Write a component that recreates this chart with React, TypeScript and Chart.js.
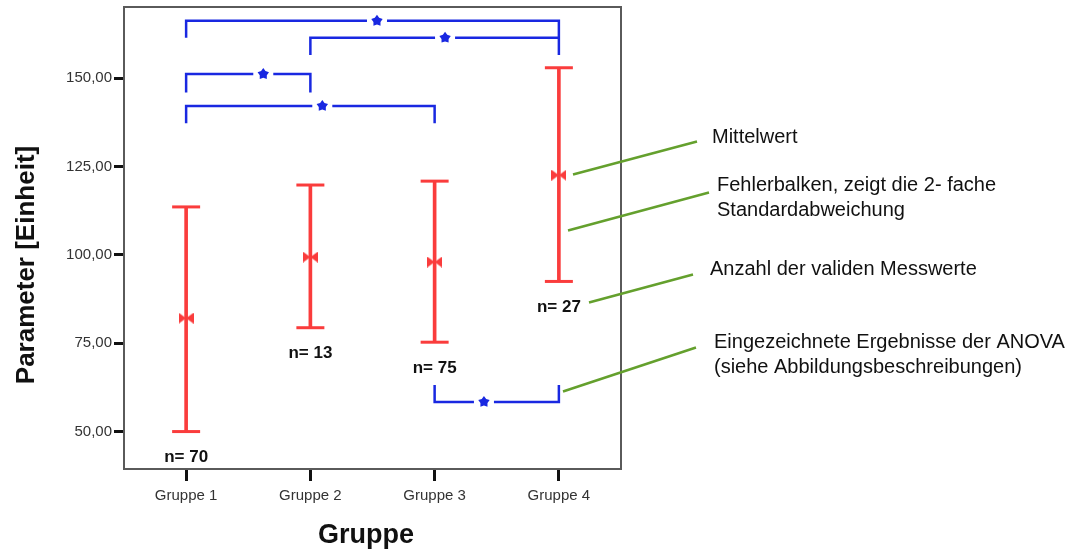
import React, { useEffect, useRef } from 'react';
import { Chart, registerables } from 'chart.js';

Chart.register(...registerables);

// ---- data ----
const categories = ['Gruppe 1', 'Gruppe 2', 'Gruppe 3', 'Gruppe 4'];
const meanValues = [82.1, 99.4, 98.0, 122.6];
const upperValues = [113.6, 119.8, 120.9, 153.0];
const lowerValues = [50.0, 79.4, 75.3, 92.5];
const nCounts = [70, 13, 75, 27];
const yTickValues = [50, 75, 100, 125, 150];
const yMin = 39.4;
const yMax = 170.2;

// significance brackets (ANOVA results)
const bracketFrom = [0, 1, 0, 0, 2];
const bracketTo = [3, 3, 1, 2, 3];
const bracketLevel = [166.3, 161.5, 151.2, 142.2, 58.4];
const bracketFromEnd = [161.5, 156.6, 146.0, 137.3, 63.2];
const bracketToEnd = [156.6, 161.5, 146.0, 137.3, 63.2];
const bracketStarFrac = [0.512, 0.542, 0.621, 0.548, 0.397];

// explanatory callouts
const calloutTexts = [
  ['Mittelwert'],
  ['Fehlerbalken, zeigt die 2- fache', 'Standardabweichung'],
  ['Anzahl der validen Messwerte'],
  ['Eingezeichnete Ergebnisse der ANOVA', '(siehe Abbildungsbeschreibungen)'],
];

const RED = 'rgb(250,60,60)';
const BLUE = 'rgb(25,40,225)';
const GREEN = 'rgb(100,160,45)';
const FONT = '"Liberation Sans", Arial, Helvetica, sans-serif';

function makeBowtie(): HTMLCanvasElement {
  const c = document.createElement('canvas');
  c.width = 15;
  c.height = 11;
  const g = c.getContext('2d')!;
  g.fillStyle = RED;
  g.beginPath();
  g.moveTo(0, 0);
  g.lineTo(7.5, 5.5);
  g.lineTo(0, 11);
  g.closePath();
  g.fill();
  g.beginPath();
  g.moveTo(15, 0);
  g.lineTo(7.5, 5.5);
  g.lineTo(15, 11);
  g.closePath();
  g.fill();
  return c;
}

function drawStar(ctx: CanvasRenderingContext2D, cx: number, cy: number, r: number) {
  ctx.beginPath();
  for (let k = 0; k < 10; k++) {
    const a = -Math.PI / 2 + (k * Math.PI) / 5;
    const rad = k % 2 === 0 ? r : r * 0.62;
    const px = cx + Math.cos(a) * rad;
    const py = cy + Math.sin(a) * rad;
    if (k === 0) ctx.moveTo(px, py);
    else ctx.lineTo(px, py);
  }
  ctx.closePath();
  ctx.fill();
}

const decorPlugin = {
  id: 'decor',
  afterDatasetsDraw(chart: any) {
    const ctx: CanvasRenderingContext2D = chart.ctx;
    const xs = chart.scales.x;
    const ys = chart.scales.y;
    const area = chart.chartArea;
    ctx.save();

    // frame
    ctx.strokeStyle = '#5a5a5a';
    ctx.lineWidth = 2;
    ctx.strokeRect(area.left, area.top, area.right - area.left, area.bottom - area.top);

    // error bar caps
    ctx.strokeStyle = RED;
    ctx.lineWidth = 3;
    categories.forEach((_, i) => {
      const x = xs.getPixelForValue(i);
      [upperValues[i], lowerValues[i]].forEach((v) => {
        const y = ys.getPixelForValue(v);
        ctx.beginPath();
        ctx.moveTo(x - 14, y);
        ctx.lineTo(x + 14, y);
        ctx.stroke();
      });
    });

    // n labels
    ctx.fillStyle = '#111';
    ctx.font = `bold 17px ${FONT}`;
    ctx.textAlign = 'center';
    ctx.textBaseline = 'middle';
    categories.forEach((_, i) => {
      const x = xs.getPixelForValue(i);
      const y = ys.getPixelForValue(lowerValues[i]) + 26;
      ctx.fillText(`n= ${nCounts[i]}`, x, y);
    });

    // significance brackets
    ctx.strokeStyle = BLUE;
    ctx.fillStyle = BLUE;
    ctx.lineWidth = 2.5;
    bracketFrom.forEach((f, b) => {
      const x1 = xs.getPixelForValue(f);
      const x2 = xs.getPixelForValue(bracketTo[b]);
      const y = ys.getPixelForValue(bracketLevel[b]);
      const y1 = ys.getPixelForValue(bracketFromEnd[b]);
      const y2 = ys.getPixelForValue(bracketToEnd[b]);
      const sx = x1 + (x2 - x1) * bracketStarFrac[b];
      const gap = 10;
      ctx.beginPath();
      ctx.moveTo(x1, y1);
      ctx.lineTo(x1, y);
      ctx.lineTo(sx - gap, y);
      ctx.moveTo(sx + gap, y);
      ctx.lineTo(x2, y);
      ctx.lineTo(x2, y2);
      ctx.stroke();
      drawStar(ctx, sx, y, 6);
    });

    // callouts
    const callouts = [
      { l: [573, 174.5, 697, 141.5], tx: 712, ty: 137 },
      { l: [568, 230.5, 709, 192.5], tx: 717, ty: 185 },
      { l: [589, 302.5, 693, 274.5], tx: 710, ty: 269 },
      { l: [563, 391.5, 696, 347.5], tx: 714, ty: 342 },
    ];
    ctx.strokeStyle = GREEN;
    ctx.lineWidth = 2.5;
    ctx.fillStyle = '#111';
    ctx.font = `20px ${FONT}`;
    ctx.textAlign = 'left';
    ctx.textBaseline = 'middle';
    callouts.forEach((c, i) => {
      ctx.beginPath();
      ctx.moveTo(c.l[0], c.l[1]);
      ctx.lineTo(c.l[2], c.l[3]);
      ctx.stroke();
      calloutTexts[i].forEach((t, k) => {
        ctx.fillText(t, c.tx, c.ty + k * 25);
      });
    });

    // axis titles
    ctx.fillStyle = '#111';
    ctx.font = `bold 27px ${FONT}`;
    ctx.textAlign = 'center';
    ctx.textBaseline = 'alphabetic';
    ctx.fillText('Gruppe', 366, 543);
    ctx.save();
    ctx.translate(34, 265);
    ctx.rotate(-Math.PI / 2);
    ctx.font = `bold 26px ${FONT}`;
    ctx.fillText('Parameter [Einheit]', 0, 0);
    ctx.restore();

    ctx.restore();
  },
};

export default function App() {
  const ref = useRef<HTMLCanvasElement | null>(null);

  useEffect(() => {
    if (!ref.current) return;
    const bowtie = makeBowtie();
    const chart = new Chart(ref.current, {
      type: 'bar',
      data: {
        labels: categories,
        datasets: [
          {
            type: 'bar',
            label: 'Fehlerbalken',
            data: lowerValues.map((l, i) => [l, upperValues[i]]) as any,
            backgroundColor: RED,
            borderWidth: 0,
            barThickness: 3,
            order: 2,
          },
          {
            type: 'line',
            label: 'Mittelwert',
            data: meanValues,
            showLine: false,
            pointStyle: bowtie as any,
            borderColor: RED,
            backgroundColor: RED,
            order: 1,
          },
        ],
      },
      options: {
        responsive: false,
        maintainAspectRatio: false,
        animation: false,
        layout: { padding: { left: 0, top: 7, right: 469, bottom: 0 } },
        plugins: { legend: { display: false }, tooltip: { enabled: false } },
        scales: {
          x: {
            type: 'category',
            offset: true,
            border: { display: false },
            grid: {
              offset: false,
              drawOnChartArea: false,
              drawTicks: true,
              tickLength: 12,
              tickWidth: 3,
              tickColor: '#111',
            },
            ticks: {
              color: '#333',
              font: { family: FONT, size: 15 },
              padding: 6,
              maxRotation: 0,
            },
            afterFit: (s: any) => {
              s.height = 80;
              s.paddingLeft = 0;
              s.paddingRight = 0;
            },
          },
          y: {
            type: 'linear',
            min: yMin,
            max: yMax,
            border: { display: false },
            grid: {
              drawOnChartArea: false,
              drawTicks: true,
              tickLength: 10,
              tickWidth: 3,
              tickColor: '#111',
            },
            afterBuildTicks: (s: any) => {
              s.ticks = yTickValues.map((v) => ({ value: v }));
            },
            ticks: {
              color: '#333',
              font: { family: FONT, size: 15 },
              padding: 2,
              callback: (v: any) => Number(v).toFixed(2).replace('.', ','),
            },
            afterFit: (s: any) => {
              s.width = 124;
              s.paddingTop = 0;
              s.paddingBottom = 0;
            },
          },
        },
      },
      plugins: [decorPlugin],
    });
    return () => chart.destroy();
  }, []);

  return (
    <div style={{ position: 'absolute', left: 0, top: 0, width: 1090, height: 549, background: '#fff' }}>
      <canvas ref={ref} width={1090} height={549} style={{ display: 'block', width: 1090, height: 549 }} />
    </div>
  );
}
